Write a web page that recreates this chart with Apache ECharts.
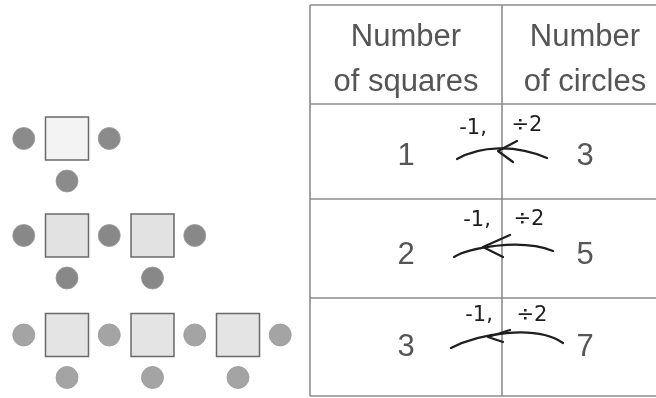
<!DOCTYPE html>
<html><head><meta charset="utf-8">
<script src="https://cdn.jsdelivr.net/npm/echarts@6/dist/echarts.min.js"></script>
<style>html,body{margin:0;padding:0;background:#fff}#c{width:656px;height:398px}</style>
</head><body><div id="c"></div>
<script>
// ---- data ----
const squaresPerFigure = [1, 2, 3];
const circlesPerFigure = [3, 5, 7];
const headerLabels = ['Number\nof squares', 'Number\nof circles'];
const noteMinus = '-1,';
const noteDivide = '÷2';

// ---- layout (pixel units on hidden axes) ----
const figRowY = [138.5, 235.5, 335];
const figX0 = 67, figStep = 85.5, sqSize = 43, circleSize = 22, bottomDy = 42.5;
const tableLeft = 310, tableMid = 502, tableRight = 700;
const tableRows = [5, 104, 199, 298, 396];
const colCenter = [406, 585];
const headerY = [37, 82];
const numberY = [156, 255, 347];
const noteY = [[129, 126], [221, 220], [316, 316]];
const noteX = [[473, 527], [477, 529], [479, 532]];
// arrow geometry per row: left end, cp1, cp2, right end, tip, arm1, arm2
const arrowGeom = [
  {l:[457,159], c1:[480,146], c2:[515,144], r:[547,158], t:[498,151], a1:[517,141], a2:[513,162]},
  {l:[454,257], c1:[468,248], c2:[520,238], r:[553,251], t:[483,247], a1:[510,235], a2:[503,257]},
  {l:[451,348], c1:[478,334], c2:[535,324], r:[563,343], t:[488,337], a1:[510,330], a2:[503,342]}
];

// build marks
const squareData = [], circleData = [];
squaresPerFigure.forEach((n, r) => {
  for (let i = 0; i < n; i++) squareData.push({value:[figX0 + figStep * i, figRowY[r]], row:r});
  const nc = circlesPerFigure[r];
  const side = n + 1;
  for (let j = 0; j < side; j++) circleData.push({value:[figX0 - figStep / 2 - 0.5 + figStep * j, figRowY[r]], row:r});
  for (let j = 0; j < nc - side; j++) circleData.push({value:[figX0 + figStep * j, figRowY[r] + bottomDy], row:r});
});

const squareFill = ['#f3f3f3', '#e2e2e2', '#e4e4e4'];
const circleFill = ['#8b8b8b', '#888888', '#a4a4a4'];

const textData = [];
headerLabels.forEach((h, c) => {
  const lines = h.split('\n');
  lines.forEach((ln, k) => textData.push({value:[colCenter[c], headerY[k]], txt:ln, kind:'cell'}));
});
squaresPerFigure.forEach((v, r) => {
  textData.push({value:[colCenter[0], numberY[r]], txt:String(v), kind:'cell'});
  textData.push({value:[colCenter[1], numberY[r]], txt:String(circlesPerFigure[r]), kind:'cell'});
  textData.push({value:[noteX[r][0], noteY[r][0]], txt:noteMinus, kind:'note'});
  textData.push({value:[noteX[r][1], noteY[r][1]], txt:noteDivide, kind:'note'});
});

const chart = echarts.init(document.getElementById('c'));
chart.setOption({
  animation: false,
  backgroundColor: '#fff',
  grid: {left:0, right:0, top:0, bottom:0},
  xAxis: {type:'value', min:0, max:656, show:false},
  yAxis: {type:'value', min:0, max:398, inverse:true, show:false},
  series: [
    {
      type:'custom', data:[[0,0]], silent:true,
      renderItem: (params, api) => {
        const ch = [];
        const lineStyle = {stroke:'#8c8c8c', lineWidth:1.6};
        tableRows.forEach(y => {
          const p1 = api.coord([tableLeft, y]), p2 = api.coord([tableRight, y]);
          ch.push({type:'line', shape:{x1:p1[0], y1:p1[1], x2:p2[0], y2:p2[1]}, style:lineStyle});
        });
        [tableLeft, tableMid].forEach(x => {
          const p1 = api.coord([x, tableRows[0]]), p2 = api.coord([x, tableRows[tableRows.length - 1]]);
          ch.push({type:'line', shape:{x1:p1[0], y1:p1[1], x2:p2[0], y2:p2[1]}, style:lineStyle});
        });
        return {type:'group', children:ch};
      }
    },
    {
      type:'scatter', symbol:'rect', symbolSize:sqSize, silent:true,
      data: squareData.map(d => ({value:d.value, itemStyle:{color:squareFill[d.row]}})),
      itemStyle:{borderColor:'#6a6a6a', borderWidth:1.5, opacity:1}
    },
    {
      type:'scatter', symbol:'circle', symbolSize:circleSize, silent:true,
      data: circleData.map(d => ({value:d.value, itemStyle:{color:circleFill[d.row]}})),
      itemStyle:{borderColor:'#999999', borderWidth:0.8, opacity:1}
    },
    {
      type:'custom', silent:true,
      data: arrowGeom.map((g, i) => [i, 0]),
      renderItem: (params, api) => {
        const g = arrowGeom[params.dataIndex];
        const P = p => api.coord(p);
        const l = P(g.l), c1 = P(g.c1), c2 = P(g.c2), r = P(g.r), t = P(g.t), a1 = P(g.a1), a2 = P(g.a2);
        const st = {stroke:'#1e1e1e', lineWidth:2.2, fill:null, lineCap:'round', lineJoin:'round'};
        return {type:'group', children:[
          {type:'bezierCurve', shape:{x1:l[0], y1:l[1], cpx1:c1[0], cpy1:c1[1], cpx2:c2[0], cpy2:c2[1], x2:r[0], y2:r[1]}, style:st},
          {type:'polyline', shape:{points:[a1, t, a2]}, style:st}
        ]};
      }
    },
    {
      type:'custom', silent:true,
      data: textData.map(d => d.value),
      renderItem: (params, api) => {
        const d = textData[params.dataIndex];
        const p = api.coord(d.value);
        const cell = d.kind === 'cell';
        return {type:'text', x:p[0], y:p[1], style:{
          text:d.txt, align:'center', verticalAlign:'middle',
          font: cell ? '31px "Liberation Sans", Arial, sans-serif' : '21px "DejaVu Sans", sans-serif',
          fill: cell ? '#555555' : '#1e1e1e'
        }};
      }
    }
  ]
});
</script></body></html>
